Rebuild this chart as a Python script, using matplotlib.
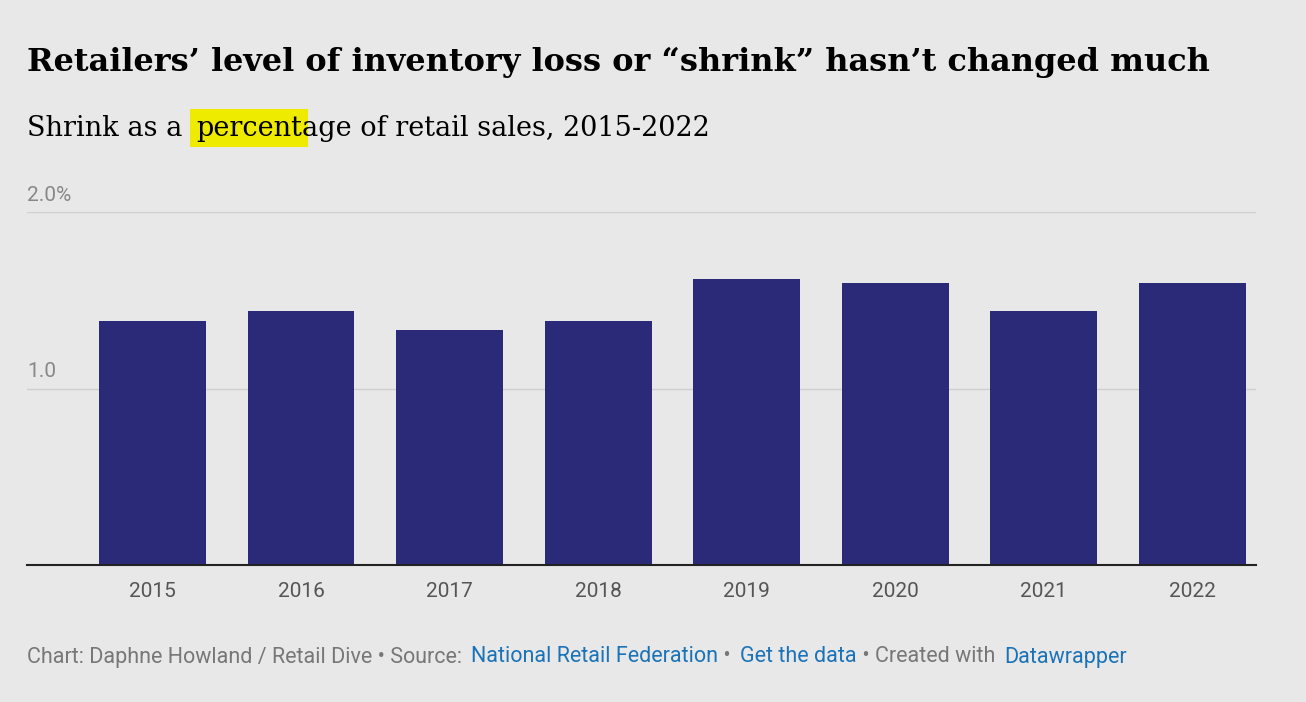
import matplotlib.pyplot as plt

years = ['2015', '2016', '2017', '2018', '2019', '2020', '2021', '2022']
shrink = [1.38, 1.44, 1.33, 1.38, 1.62, 1.60, 1.44, 1.60]

fig = plt.figure(figsize=(13.06, 7.02), dpi=100, facecolor='#e8e8e8')
ax = fig.add_axes([27/1306, 1-565/702, 1229/1306, (565-212)/702])
ax.set_facecolor('#e8e8e8')

ax.bar(range(len(years)), shrink, width=0.72, color='#2a2a78', zorder=3)
ax.set_xlim(-0.845, 7.43)
ax.set_ylim(0, 2.0)
ax.set_xticks(range(len(years)))
ax.set_xticklabels(years, fontsize=15, color='#555555', family='Roboto')
ax.tick_params(axis='x', length=0, pad=12)
ax.set_yticks([])
for v, lab in [(1.0, '1.0'), (2.0, '2.0%')]:
    ax.axhline(v, color='#cfcfcf', lw=1, zorder=1)
    ax.text(0, v + 0.04, lab, transform=ax.get_yaxis_transform(), fontsize=15,
            color='#888888', family='Roboto', va='bottom')
for s in ['top', 'right', 'left']:
    ax.spines[s].set_visible(False)
ax.spines['bottom'].set_color('#222222')
ax.spines['bottom'].set_linewidth(1.5)
ax.spines['bottom'].set_zorder(4)

fig.text(27/1306, 1-62/702, 'Retailers\u2019 level of inventory loss or \u201cshrink\u201d hasn\u2019t changed much',
         fontsize=23, fontweight='bold', family='DejaVu Serif', va='center')

fig.canvas.draw()
r = fig.canvas.get_renderer()

# subtitle, drawn in pieces so the highlight sits under one word
x = 27
for part, bg in [('Shrink as a ', None), ('percent', '#eeea00'), ('age of retail sales, 2015-2022', None)]:
    t = fig.text(x/1306, 1-128/702, part, fontsize=19.5, family='DejaVu Serif', va='center')
    if bg:
        t.set_bbox(dict(facecolor=bg, edgecolor='none', pad=4))
    x += t.get_window_extent(r).width + (5 if part.endswith(' ') else 0)

# footer
x = 27
grey, blue = '#777777', '#1a73b8'
for part, c in [('Chart: Daphne Howland / Retail Dive \u2022 Source: ', grey), ('National Retail Federation', blue),
                (' \u2022 ', grey), ('Get the data', blue), (' \u2022 Created with ', grey), ('Datawrapper', blue)]:
    t = fig.text(x/1306, 1-657/702, part, fontsize=15.5, family='Roboto', color=c, va='center')
    x += t.get_window_extent(r).width + (4 if part.endswith(' ') else 0)

fig.savefig('out.png', dpi=100, facecolor=fig.get_facecolor())
